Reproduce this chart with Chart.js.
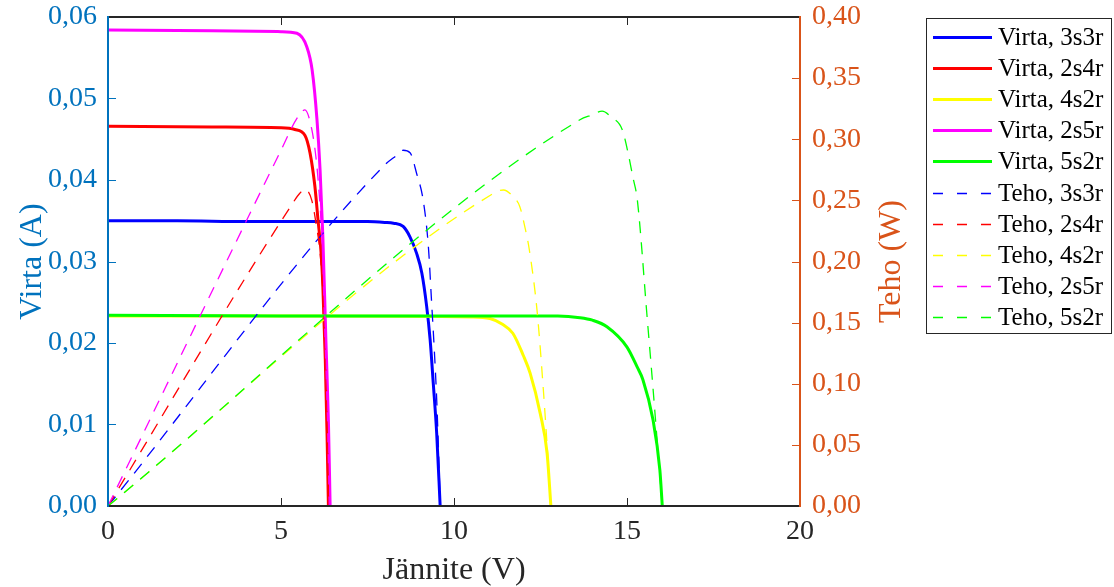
<!DOCTYPE html>
<html>
<head>
<meta charset="utf-8">
<script src="https://cdn.jsdelivr.net/npm/chart.js@4/dist/chart.umd.min.js"></script>
<style>
  body { margin: 0; background: #fff; }
  #wrap { width: 1114px; height: 587px; position: relative; }
</style>
</head>
<body>
<div id="wrap"><canvas id="ivChart"></canvas></div>
<script>
// Measured I-V curves (voltage V, current A) for each panel layout
const virta3s3r = [[0,0.0350],[2,0.0350],[4,0.0349],[6,0.0349],[7.5,0.0349],[8.0,0.0348],[8.25,0.0347],[8.53,0.0343],[8.73,0.0330],[8.92,0.0310],[9.07,0.0286],[9.21,0.0245],[9.31,0.0204],[9.4,0.0151],[9.5,0.0089],[9.6,0]]
const virta2s4r = [[0,0.0466],[3,0.0465],[5.0,0.0464],[5.4,0.0462],[5.69,0.0455],[5.84,0.0433],[5.98,0.0392],[6.07,0.0351],[6.16,0.0310],[6.21,0.0269],[6.28,0.0180],[6.33,0.0090],[6.37,0]]
const virta4s2r = [[0,0.0233],[6,0.0233],[10.5,0.0232],[11.04,0.0230],[11.4,0.0223],[11.7,0.0212],[12.0,0.0185],[12.2,0.0163],[12.49,0.0114],[12.69,0.0065],[12.8,0]]
const virta2s5r = [[0,0.0584],[3,0.0583],[5.0,0.0582],[5.46,0.0580],[5.75,0.0563],[5.9,0.0535],[6.04,0.0474],[6.13,0.0412],[6.21,0.0330],[6.3,0.0200],[6.37,0.0105],[6.42,0]]
const virta5s2r = [[0,0.0234],[5,0.0233],[10,0.0233],[13.0,0.0233],[13.64,0.0231],[14.0,0.0228],[14.42,0.0220],[15.0,0.0195],[15.3,0.0170],[15.46,0.0155],[15.75,0.0106],[15.95,0.0044],[16.02,0]]

// Power curves (voltage V, power W)
const teho3s3r = [[0,0],[8.0,0.279],[8.35,0.287],[8.53,0.291],[8.73,0.289],[8.92,0.272],[9.11,0.250],[9.26,0.212],[9.35,0.168],[9.43,0.128],[9.5,0.087],[9.57,0.030],[9.6,0]]
const teho2s4r = [[0,0],[5.3,0.246],[5.55,0.256],[5.69,0.259],[5.89,0.250],[6.03,0.228],[6.13,0.207],[6.22,0.170],[6.3,0.110],[6.35,0.050],[6.38,0]]
const teho4s2r = [[0,0],[11.04,0.254],[11.43,0.2585],[11.71,0.253],[11.9,0.245],[12.05,0.228],[12.18,0.209],[12.4,0.160],[12.57,0.100],[12.69,0.050],[12.8,0]]
const teho2s5r = [[0,0],[5.0,0.291],[5.46,0.317],[5.69,0.324],[5.89,0.308],[6.03,0.280],[6.13,0.245],[6.21,0.205],[6.3,0.126],[6.37,0.067],[6.42,0]]
const teho5s2r = [[0,0],[13.64,0.316],[14.0,0.320],[14.28,0.323],[14.55,0.318],[14.86,0.308],[15.03,0.289],[15.17,0.269],[15.3,0.250],[15.58,0.155],[15.75,0.097],[15.9,0.043],[16.02,0]]

const layouts = ['3s3r', '2s4r', '4s2r', '2s5r', '5s2r']
const colors = ['#0000ff', '#ff0000', '#ffff00', '#ff00ff', '#00ff00']
const virtaData = [virta3s3r, virta2s4r, virta4s2r, virta2s5r, virta5s2r]
const tehoData = [teho3s3r, teho2s4r, teho4s2r, teho2s5r, teho5s2r]

const xTicks = [0, 5, 10, 15, 20]
const leftTicks = [0, 0.01, 0.02, 0.03, 0.04, 0.05, 0.06]
const rightTicks = [0, 0.05, 0.10, 0.15, 0.20, 0.25, 0.30, 0.35, 0.40]

const serif = '"Liberation Serif", "Times New Roman", serif'
const blueAxis = '#0072bd'
const orangeAxis = '#d95319'
const darkAxis = '#262626'

function toPoints(arr) {
    return arr.map(p => ({ x: p[0], y: p[1] }))
}

function fmt(v) {
    return v.toFixed(2).replace('.', ',')
}

// fixed box sizes so the plot area lands where it should
function fixBox(w, h) {
    return s => {
        if (w) s.width = w
        if (h) s.height = h
        s.paddingTop = 0; s.paddingBottom = 0
        s.paddingLeft = 0; s.paddingRight = 0
    }
}

let datasets = []
layouts.forEach((name, i) => {
    datasets.push({
        label: 'Virta, ' + name,
        data: toPoints(virtaData[i]),
        yAxisID: 'y',
        borderColor: colors[i],
        borderWidth: 3,
        order: 20 - i
    })
})
layouts.forEach((name, i) => {
    datasets.push({
        label: 'Teho, ' + name,
        data: toPoints(tehoData[i]),
        yAxisID: 'y1',
        borderColor: colors[i],
        borderWidth: 1.3,
        borderDash: [12, 9],
        order: 10 - i
    })
})

// inward tick marks, axis box, right title and boxed legend
const framePlugin = {
    id: 'frame',
    afterDraw(chart) {
        const ctx = chart.ctx
        const a = chart.chartArea
        const sx = chart.scales.x, sy = chart.scales.y, sy1 = chart.scales.y1
        const tl = 8
        ctx.save()
        ctx.lineWidth = 1
        ctx.strokeStyle = darkAxis
        xTicks.forEach(v => {
            const px = Math.round(sx.getPixelForValue(v)) + 0.5
            ctx.beginPath()
            ctx.moveTo(px, a.bottom); ctx.lineTo(px, a.bottom - tl)
            ctx.moveTo(px, a.top); ctx.lineTo(px, a.top + tl)
            ctx.stroke()
        })
        ctx.strokeStyle = blueAxis
        leftTicks.forEach(v => {
            const py = Math.round(sy.getPixelForValue(v)) + 0.5
            ctx.beginPath(); ctx.moveTo(a.left, py); ctx.lineTo(a.left + tl, py); ctx.stroke()
        })
        ctx.strokeStyle = orangeAxis
        rightTicks.forEach(v => {
            const py = Math.round(sy1.getPixelForValue(v)) + 0.5
            ctx.beginPath(); ctx.moveTo(a.right, py); ctx.lineTo(a.right - tl, py); ctx.stroke()
        })

        ctx.lineWidth = 2
        ctx.strokeStyle = darkAxis
        ctx.beginPath()
        ctx.moveTo(a.left, a.top); ctx.lineTo(a.right, a.top)
        ctx.moveTo(a.left, a.bottom); ctx.lineTo(a.right, a.bottom)
        ctx.stroke()
        ctx.strokeStyle = blueAxis
        ctx.beginPath(); ctx.moveTo(a.left, a.top - 1); ctx.lineTo(a.left, a.bottom + 1); ctx.stroke()
        ctx.strokeStyle = orangeAxis
        ctx.beginPath(); ctx.moveTo(a.right, a.top - 1); ctx.lineTo(a.right, a.bottom + 1); ctx.stroke()

        // right axis title reads bottom to top
        ctx.save()
        ctx.translate(892, (a.top + a.bottom) / 2)
        ctx.rotate(-Math.PI / 2)
        ctx.fillStyle = orangeAxis
        ctx.font = '32px ' + serif
        ctx.textAlign = 'center'
        ctx.textBaseline = 'middle'
        ctx.fillText('Teho (W)', 0, 0)
        ctx.restore()

        // legend
        const lx = 926, ly = 18, lw = 185, lh = 315
        ctx.fillStyle = '#fff'
        ctx.fillRect(lx, ly, lw, lh)
        ctx.lineWidth = 1
        ctx.strokeStyle = '#262626'
        ctx.strokeRect(lx + 0.5, ly + 0.5, lw, lh)
        ctx.font = '25px ' + serif
        ctx.textAlign = 'left'
        ctx.textBaseline = 'middle'
        chart.data.datasets.forEach((ds, i) => {
            const y = Math.round(ly + 19 + i * 31.1) + 0.5
            ctx.strokeStyle = ds.borderColor
            ctx.lineWidth = ds.borderDash ? 1.3 : 3
            ctx.setLineDash(ds.borderDash ? [10, 14] : [])
            ctx.beginPath(); ctx.moveTo(933, y); ctx.lineTo(992, y); ctx.stroke()
            ctx.setLineDash([])
            ctx.fillStyle = '#000'
            ctx.fillText(ds.label, 998, y + 1)
        })
        ctx.restore()
    }
}

new Chart(document.getElementById('ivChart'), {
    type: 'line',
    data: { datasets: datasets },
    options: {
        responsive: true,
        maintainAspectRatio: false,
        animation: false,
        elements: {
            point: { radius: 0 },
            line: { cubicInterpolationMode: 'monotone', fill: false }
        },
        layout: { padding: { top: 17, right: 214, left: 0, bottom: 0 } },
        plugins: { legend: { display: false }, tooltip: { enabled: false } },
        scales: {
            x: {
                type: 'linear', position: 'bottom', min: 0, max: 20,
                grid: { display: false, drawTicks: false },
                border: { display: false },
                ticks: { stepSize: 5, color: darkAxis, padding: 9, maxRotation: 0,
                         font: { family: serif, size: 28 } },
                title: { display: true, text: 'Jännite (V)', color: darkAxis,
                         font: { family: serif, size: 32, lineHeight: 1 }, padding: { top: 0, bottom: 0 } },
                afterFit: fixBox(0, 81)
            },
            y: {
                type: 'linear', position: 'left', min: 0, max: 0.06,
                grid: { display: false, drawTicks: false },
                border: { display: false },
                ticks: { stepSize: 0.01, color: blueAxis, padding: 11,
                         font: { family: serif, size: 28 }, callback: v => fmt(v) },
                title: { display: true, text: 'Virta (A)', color: blueAxis,
                         font: { family: serif, size: 32, lineHeight: 1 }, padding: { top: 17, bottom: 0 } },
                afterFit: fixBox(108, 0)
            },
            y1: {
                type: 'linear', position: 'right', min: 0, max: 0.4,
                grid: { display: false, drawTicks: false },
                border: { display: false },
                ticks: { stepSize: 0.05, color: orangeAxis, padding: 12,
                         font: { family: serif, size: 28 }, callback: v => fmt(v) },
                afterFit: fixBox(100, 0)
            }
        }
    },
    plugins: [framePlugin]
})
</script>
</body>
</html>
